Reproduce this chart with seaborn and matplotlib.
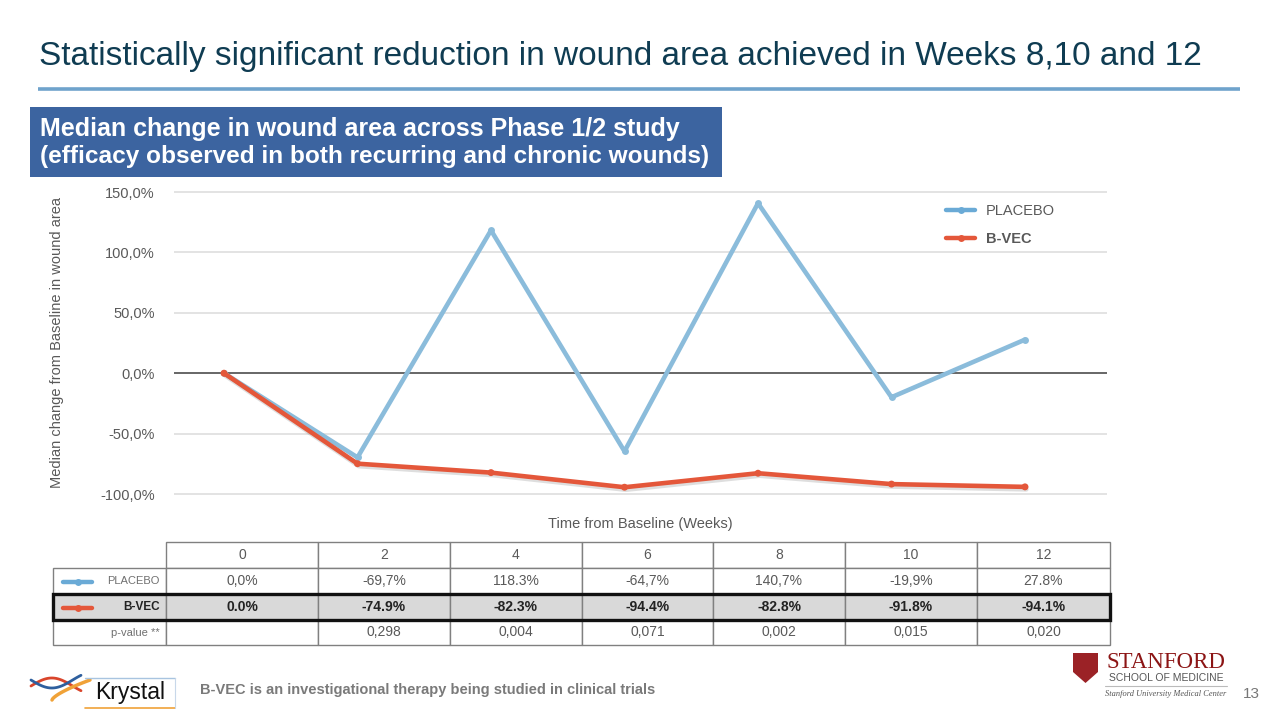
import numpy as np
import pandas as pd
import matplotlib
matplotlib.use("Agg")
import matplotlib.pyplot as plt
import seaborn as sns
from matplotlib.patches import Rectangle, Polygon
from matplotlib.lines import Line2D
from matplotlib.ticker import FuncFormatter
import matplotlib.patheffects as pe

# ---------------- data ----------------
weeks = [0, 2, 4, 6, 8, 10, 12]
placebo = [0.0, -69.7, 118.3, -64.7, 140.7, -19.9, 27.8]
bvec = [0.0, -74.9, -82.3, -94.4, -82.8, -91.8, -94.1]
week_labels = ["0", "2", "4", "6", "8", "10", "12"]
placebo_txt = ["0,0%", "-69,7%", "118.3%", "-64,7%", "140,7%", "-19,9%", "27.8%"]
bvec_txt = ["0.0%", "-74.9%", "-82.3%", "-94.4%", "-82.8%", "-91.8%", "-94.1%"]
pvalues = ["", "0,298", "0,004", "0,071", "0,002", "0,015", "0,020"]
y_ticks = [-100, -50, 0, 50, 100, 150]

series_names = ["PLACEBO", "B-VEC"]
colors = {"PLACEBO": "#8bbcdb", "B-VEC": "#e4573a"}

df = pd.DataFrame({
    "week": weeks * 2,
    "value": placebo + bvec,
    "series": ["PLACEBO"] * len(weeks) + ["B-VEC"] * len(weeks),
})

sns.set_theme(style="white")
plt.rcParams["font.family"] = ["Liberation Sans", "DejaVu Sans"]

W, H = 1280, 720
fig = plt.figure(figsize=(12.8, 7.2), dpi=100)

# background / layout layer in pixel coordinates
bg = fig.add_axes([0, 0, 1, 1], zorder=0)
bg.set_xlim(0, W)
bg.set_ylim(H, 0)
bg.axis("off")

GRAY = "#595959"

# title + rule
bg.text(39, 57, "Statistically significant reduction in wound area achieved in Weeks 8,10 and 12",
        fontsize=24, color="#0f3c52", va="center", ha="left")
bg.plot([38, 1240], [89, 89], color="#6fa3cc", lw=2.6, solid_capstyle="butt")

# blue box
bg.add_patch(Rectangle((30, 107), 692, 70, facecolor="#3c64a0", edgecolor="none"))
bg.text(40, 129, "Median change in wound area across Phase 1/2 study", fontsize=18,
        fontweight="bold", color="white", va="center", ha="left")
bg.text(40, 156, "(efficacy observed in both recurring and chronic wounds)", fontsize=17.6,
        fontweight="bold", color="white", va="center", ha="left")

# ---------------- main chart ----------------
ax_l, ax_r, ax_t, ax_b = 174, 1107, 190, 496
ax = fig.add_axes([ax_l / W, 1 - ax_b / H, (ax_r - ax_l) / W, (ax_b - ax_t) / H], zorder=2)
ax.set_facecolor("none")

sns.lineplot(data=df, x="week", y="value", hue="series", hue_order=series_names,
             palette=colors, marker="o", markersize=5, markeredgewidth=0,
             linewidth=3.3, legend=False, ax=ax, sort=False)

# soft shadow on B-VEC line
for ln in ax.lines:
    if matplotlib.colors.to_hex(ln.get_color()) == colors["B-VEC"]:
        ln.set_path_effects([pe.SimpleLineShadow(offset=(1.0, -1.8), shadow_color="#8a8a8a", alpha=0.28),
                             pe.Normal()])
        ln.set_zorder(4)
    else:
        ln.set_zorder(3)

px_per_week = (1025 - 224) / 12.0
ax.set_xlim(0 - (224 - ax_l) / px_per_week, 12 + (ax_r - 1025) / px_per_week)
px_per_unit = (494 - 192) / 250.0
ax.set_ylim(-100 - 2 / px_per_unit, 150 + 2 / px_per_unit)
ax.set_yticks(y_ticks)
ax.yaxis.set_major_formatter(FuncFormatter(lambda v, p: f"{v:.1f}%".replace(".", ",")))
ax.set_xticks([])
ax.tick_params(axis="y", length=0, pad=14, labelsize=10.5, labelcolor=GRAY)
for s in ax.spines.values():
    s.set_visible(False)
ax.grid(False)
for yv in y_ticks:
    if yv == 0:
        ax.axhline(yv, color="#5a5a5a", lw=1.3, zorder=1)
    else:
        ax.axhline(yv, color="#dedede", lw=1.2, zorder=1)

ax.set_xlabel("Time from Baseline (Weeks)", fontsize=10.5, color=GRAY)
ax.xaxis.set_label_coords(0.5, -(524 - ax_b) / (ax_b - ax_t))
ax.xaxis.label.set_va("center")
ax.set_ylabel("Median change from Baseline in wound area", fontsize=10.5, color=GRAY)
ax.yaxis.set_label_coords(-(ax_l - 57) / (ax_r - ax_l), 0.5)
ax.yaxis.label.set_va("center")

handles = [Line2D([0], [0], color=("#6aaad6" if n == "PLACEBO" else colors[n]), lw=3.2,
                  marker="o", markersize=5, markeredgewidth=0) for n in series_names]
leg = ax.legend(handles, series_names, loc="upper left", bbox_to_anchor=(946, 204),
                bbox_transform=bg.transData, frameon=False, fontsize=10.5,
                handlelength=2.0, handletextpad=0.75, labelspacing=0.95,
                borderpad=0, borderaxespad=0)
for t in leg.get_texts():
    t.set_color(GRAY)
    if t.get_text() == "B-VEC":
        t.set_fontweight("bold")

# ---------------- table ----------------
xb = [53, 166, 318, 450, 582, 713, 845, 977, 1110]
yb = [542, 568, 594, 620, 645]
border = "#808080"

# header row
for i in range(7):
    bg.add_patch(Rectangle((xb[i + 1], yb[0]), xb[i + 2] - xb[i + 1], yb[1] - yb[0],
                           facecolor="white", edgecolor=border, lw=1))
    bg.text((xb[i + 1] + xb[i + 2]) / 2, (yb[0] + yb[1]) / 2, week_labels[i],
            fontsize=10, color=GRAY, ha="center", va="center")

rows = [("PLACEBO", placebo_txt, "normal", "white"),
        ("B-VEC", bvec_txt, "bold", "#d9d9d9"),
        ("p-value **", pvalues, "normal", "white")]
for r, (lab, vals, fw, fc) in enumerate(rows):
    y0, y1 = yb[r + 1], yb[r + 2]
    yc = (y0 + y1) / 2
    for c in range(8):
        bg.add_patch(Rectangle((xb[c], y0), xb[c + 1] - xb[c], y1 - y0,
                               facecolor=fc, edgecolor=border, lw=1))
    lab_color = "#222222" if fw == "bold" else "#707070"
    bg.text(160, yc, lab, fontsize=8.5 if fw == "bold" else 8, color=lab_color,
            fontweight=fw, ha="right", va="center")
    for c in range(7):
        bg.text((xb[c + 1] + xb[c + 2]) / 2, yc, vals[c], fontsize=10,
                color=("#222222" if fw == "bold" else GRAY), fontweight=fw,
                ha="center", va="center")
    if lab in colors:
        lc = "#6aaad6" if lab == "PLACEBO" else colors[lab]
        bg.plot([63, 92], [yc + 1, yc + 1], color=lc, lw=3.2, solid_capstyle="round")
        bg.plot([77.5], [yc + 1], marker="o", color=lc, markersize=5, markeredgewidth=0)

# thick border around B-VEC row
bg.add_patch(Rectangle((xb[0], yb[2]), xb[-1] - xb[0], yb[3] - yb[2],
                       facecolor="none", edgecolor="#111111", lw=2.4, zorder=5))

# ---------------- footer ----------------
# Krystal logo (simplified)
tt = np.linspace(0, 1, 60)
bg.plot(31 + 50 * tt, 686 - 8 * np.sin(np.pi * tt * 1.2), color="#d9452b", lw=2)
bg.plot(31 + 50 * tt, 680 + 8 * np.sin(np.pi * tt * 1.2), color="#2e5f9e", lw=2)
bg.plot(52 + 38 * tt, 700 - 20 * tt ** 0.7, color="#f0a238", lw=2.5)
bg.plot([85, 175], [708, 708], color="#f0a238", lw=1.2)
bg.plot([85, 175], [678, 678], color="#a8c4e0", lw=1)
bg.plot([175, 175], [678, 708], color="#c8d8ea", lw=0.8)
bg.text(130, 693, "Krystal", fontsize=16.5, color="#111111", ha="center", va="center")
bg.text(200, 690, "B-VEC is an investigational therapy being studied in clinical trials",
        fontsize=10.5, fontweight="bold", color="#7a7a7a", ha="left", va="center")

# Stanford logo (simplified)
shield = Polygon([[1073, 653], [1098, 653], [1098, 672], [1085.5, 683], [1073, 672]],
                 closed=True, facecolor="#9b2226", edgecolor="none")
bg.add_patch(shield)
bg.text(1166, 663, "STANFORD", fontsize=16.5, family=["Liberation Serif", "DejaVu Serif"],
        color="#8c1515", ha="center", va="center")
bg.text(1166, 678, "SCHOOL OF MEDICINE", fontsize=7.5, color="#555555", ha="center", va="center")
bg.plot([1105, 1227], [686, 686], color="#bbbbbb", lw=0.8)
bg.text(1166, 694, "Stanford University Medical Center", fontsize=6,
        family=["Liberation Serif", "DejaVu Serif"], style="italic", color="#555555",
        ha="center", va="center")
bg.text(1243, 694, "13", fontsize=11, color="#777777", ha="left", va="center")

fig.savefig("out.png", dpi=100)
